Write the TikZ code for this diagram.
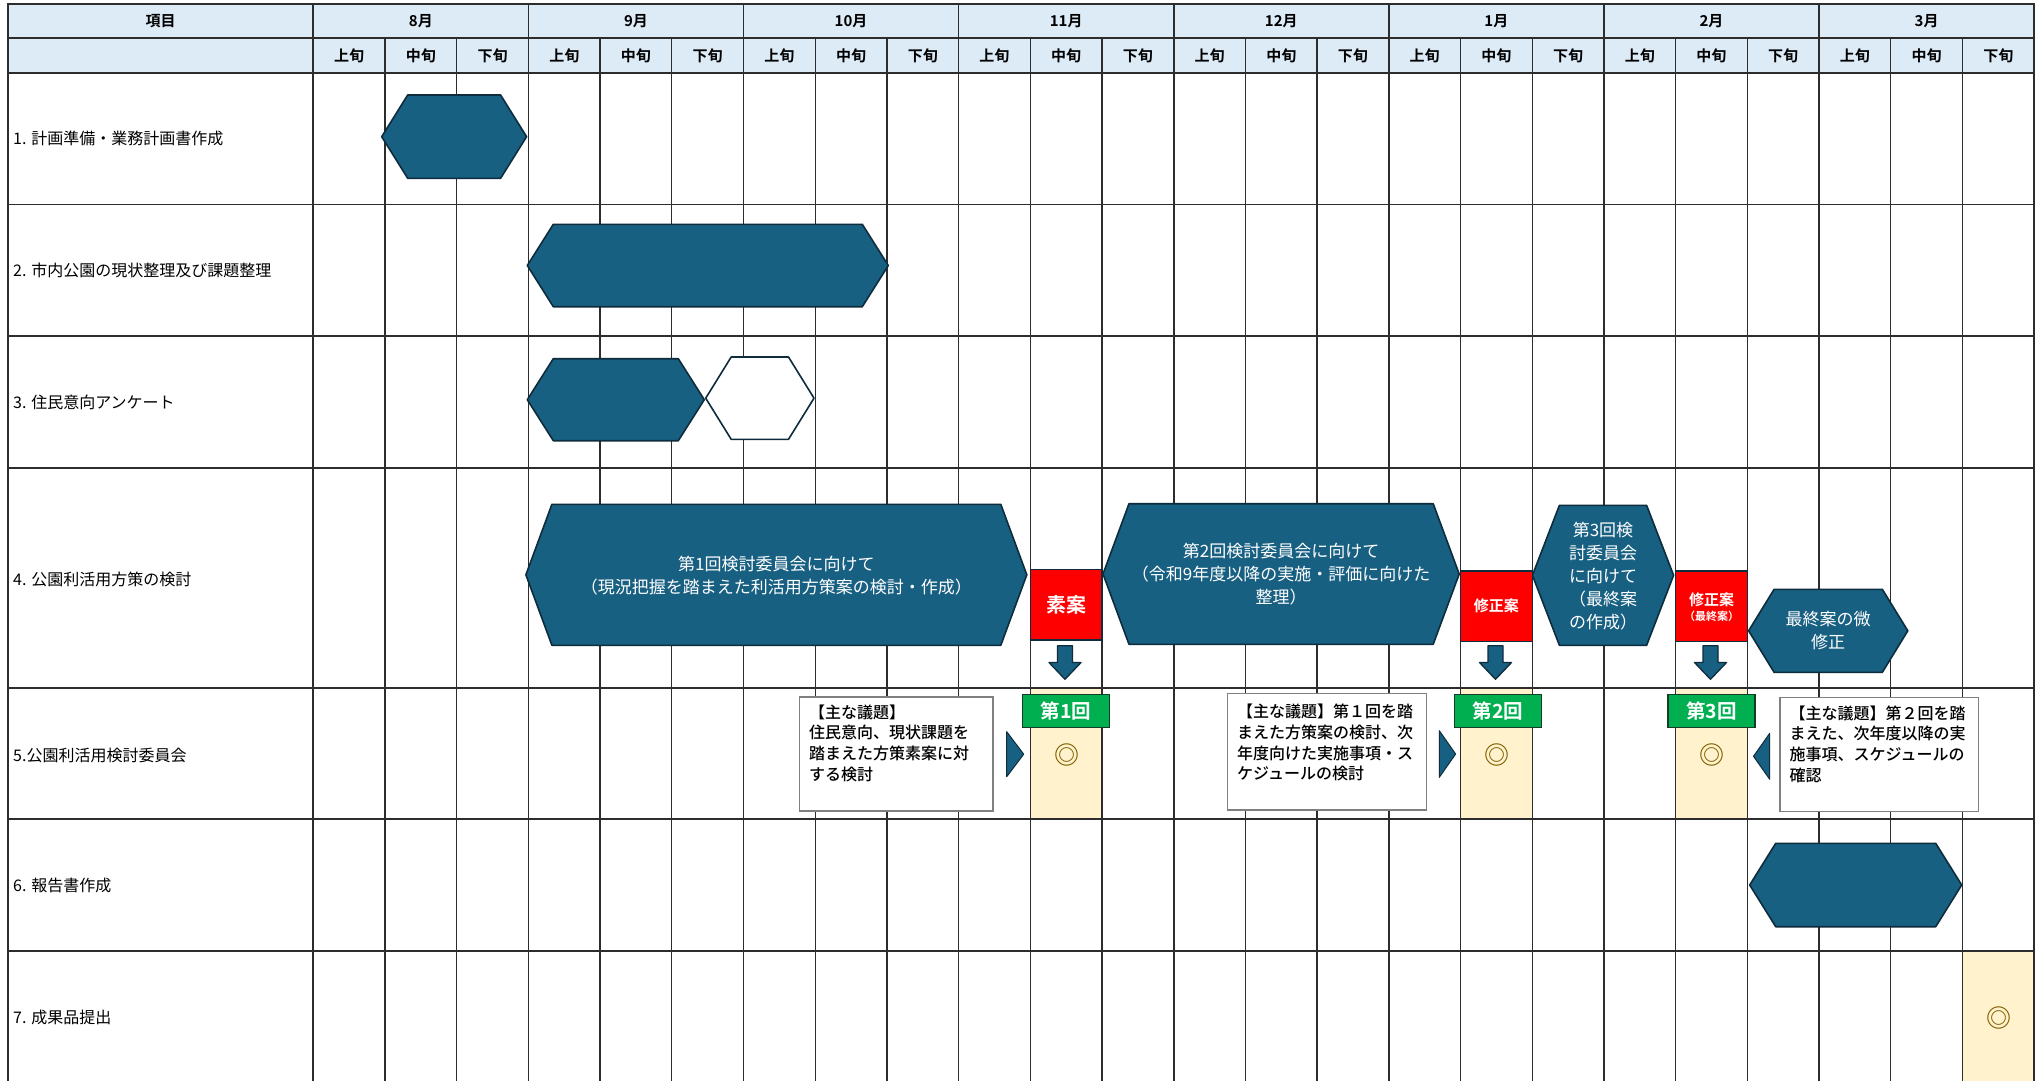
\documentclass[tikz,border=0pt]{standalone}
\usepackage{fontspec}
\setmainfont{Noto Sans CJK JP}[BoldFont={Noto Sans CJK JP Bold}]
\newfontfamily\notefont{Noto Sans CJK JP Medium}

\definecolor{headblue}{RGB}{221,235,247}
\definecolor{barblue}{RGB}{24,96,130}
\definecolor{baredge}{RGB}{14,44,60}
\definecolor{mtgyellow}{RGB}{255,242,204}
\definecolor{mtggreen}{RGB}{0,176,80}
\definecolor{mtgedge}{RGB}{22,60,40}
\definecolor{markgold}{RGB}{128,96,0}
\definecolor{gridgray}{RGB}{45,45,45}

\tikzset{
  gridline/.style={draw=gridgray, line width=1.7pt, line cap=rect},
  subline/.style={draw=gridgray, line width=1.3pt},
  hexbar/.style={fill=barblue, draw=baredge, line width=1.6pt, line join=round},
  hexopen/.style={fill=white, draw=baredge, line width=1.6pt, line join=round},
  bartext/.style={text=white, align=center, inner sep=0pt, font=\fontsize{17}{23}\selectfont},
  headtext/.style={inner sep=0pt, font=\bfseries\fontsize{15}{18}\selectfont},
  rowlabel/.style={anchor=west, inner sep=0pt, font=\fontsize{16}{20}\selectfont},
  draftbox/.style={fill=red, draw=baredge, line width=1.5pt, minimum width=71.7, minimum height=70.5},
  drafttext/.style={text=white, inner sep=0pt, font=\bfseries\fontsize{15}{15}\selectfont},
  roundbox/.style={fill=mtggreen, draw=mtgedge, line width=1.8pt, text=white, minimum width=87, minimum height=33, font=\bfseries\fontsize{19.5}{19.5}\selectfont},
  notebox/.style={fill=white, draw=gray, line width=1.4pt},
  notetext/.style={align=left, anchor=north west, inner sep=0pt, font=\notefont\fontsize{16}{20.8}\selectfont},
  pointer/.style={fill=barblue, draw=baredge, line width=1pt, line join=round},
  donemark/.style={text=markgold, inner sep=0pt, font=\bfseries\fontsize{25}{25}\selectfont}
}

\begin{document}
\begin{tikzpicture}[x=1pt,y=-1pt]
  \useasboundingbox (0,0) rectangle (2042,1081);
  \fill[white] (0,0) rectangle (2042,1081);

  \fill[headblue] (7.7,4) rectangle (2034.1,72.7);
  \fill[mtgyellow] (1030.3,688) rectangle (1102,819.3);
  \fill[mtgyellow] (1460.5,688) rectangle (1532.2,819.3);
  \fill[mtgyellow] (1675.6,688) rectangle (1747.3,819.3);
  \fill[mtgyellow] (1962.4,951) rectangle (2034.1,1081);

  \foreach \k in {0,...,23}
    \draw[subline] ({313.3+71.7*\k},38.3) -- ({313.3+71.7*\k},1081);
  \foreach \k in {0,...,8}
    \draw[gridline] ({313.3+215.1*\k},4) -- ({313.3+215.1*\k},1081);
  \draw[gridline] (7.7,4) -- (7.7,1081);
  \foreach \y in {4,38.3,72.7,204.6,336,468.3,688,819.3,951}
    \draw[gridline] (7.7,\y) -- (2034.1,\y);

  \node[headtext] (item) at (160.7,21.2) {項目};
  \foreach \mon [count=\i from 0] in {8月,9月,10月,11月,12月,1月,2月,3月}
    \node[headtext] (month\i) at ({420.85+215.1*\i},21.2) {\mon};
  \foreach \m in {0,...,7}
    \foreach \d [count=\j from 0] in {上旬,中旬,下旬}
      \node[headtext] (dec\m\j) at ({349.15+215.1*\m+71.7*\j},55.5) {\d};

  \node[rowlabel] (task1) at (13,138.6) {1. 計画準備・業務計画書作成};
  \node[rowlabel] (task2) at (13,270.3) {2. 市内公園の現状整理及び課題整理};
  \node[rowlabel] (task3) at (13,402.2) {3. 住民意向アンケート};
  \node[rowlabel] (task4) at (13,579) {4. 公園利活用方策の検討};
  \node[rowlabel] (task5) at (13,755) {5.公園利活用検討委員会};
  \node[rowlabel] (task6) at (13,885.2) {6. 報告書作成};
  \node[rowlabel] (task7) at (13,1017) {7. 成果品提出};

  \draw[hexbar] (381.7,136.7) -- (407.7,95) -- (500.6,95) -- (526.6,136.7) -- (500.6,178.3) -- (407.7,178.3) -- cycle;
  \draw[hexbar] (527.3,265.5) -- (553.3,224.3) -- (862.3,224.3) -- (888.3,265.5) -- (862.3,306.7) -- (553.3,306.7) -- cycle;
  \draw[hexbar] (527.3,399.7) -- (553.3,358.7) -- (678.3,358.7) -- (704.3,399.7) -- (678.3,440.7) -- (553.3,440.7) -- cycle;
  \draw[hexopen] (705.7,398.2) -- (731.2,357) -- (788.5,357) -- (814,398.2) -- (788.5,439.3) -- (731.2,439.3) -- cycle;
  \draw[hexbar] (525.9,574.8) -- (551.9,504.3) -- (1000.8,504.3) -- (1026.8,574.8) -- (1000.8,645.3) -- (551.9,645.3) -- cycle;
  \draw[hexbar] (1103,574) -- (1129,503.7) -- (1433.2,503.7) -- (1459.2,574) -- (1433.2,644.3) -- (1129,644.3) -- cycle;
  \draw[hexbar] (1532.4,575.3) -- (1559.4,505.3) -- (1646.6,505.3) -- (1673.6,575.3) -- (1646.6,645.3) -- (1559.4,645.3) -- cycle;
  \draw[hexbar] (1748.6,630.8) -- (1774.1,589.3) -- (1882.3,589.3) -- (1907.8,630.8) -- (1882.3,672.3) -- (1774.1,672.3) -- cycle;
  \draw[hexbar] (1749.7,885) -- (1775.7,843.3) -- (1935.7,843.3) -- (1961.7,885) -- (1935.7,926.7) -- (1775.7,926.7) -- cycle;

  \node[bartext] (plan1) at (776.4,575.5) {第1回検討委員会に向けて\\（現況把握を踏まえた利活用方策案の検討・作成）};
  \node[bartext] (plan2) at (1281.1,574.5) {第2回検討委員会に向けて\\（令和9年度以降の実施・評価に向けた\\整理）};
  \node[bartext] (plan3) at (1603,575.8) {第3回検\\討委員会\\に向けて\\（最終案\\の作成）};
  \node[bartext] (plan4) at (1828.2,631) {最終案の微\\修正};

  \node[draftbox] (draft1) at (1066.2,604.7) {};
  \node[drafttext, font=\bfseries\fontsize{20}{20}\selectfont] (draft1txt) at (draft1) {素案};
  \node[draftbox] (draft2) at (1496.4,606.2) {};
  \node[drafttext] (draft2txt) at (draft2) {修正案};
  \node[draftbox] (draft3) at (1711.5,606) {};
  \node[drafttext] (draft3txt) at (1711.5,599.3) {修正案};
  \node[drafttext, font=\bfseries\fontsize{11}{11}\selectfont] (draft3sub) at (1711.5,616.7) {（最終案）};

  \foreach \ax in {1065,1495.5,1710.5}
    \draw[pointer, line width=1.3pt] ({\ax-7.5},645.7) -- ({\ax+7.5},645.7) -- ({\ax+7.5},662.5) -- ({\ax+16},662.5) -- (\ax,679.3) -- ({\ax-16},662.5) -- ({\ax-7.5},662.5) -- cycle;

  \node[roundbox] (round1) at (1066,711) {第1回};
  \node[roundbox] (round2) at (1497.9,711) {第2回};
  \node[roundbox] (round3) at (1711.4,711) {第3回};

  \node[donemark] (done1) at (1067,754.5) {◎};
  \node[donemark] (done2) at (1497,754.5) {◎};
  \node[donemark] (done3) at (1712,754.5) {◎};
  \node[donemark] (done4) at (1999,1017.5) {◎};

  \draw[notebox] (799.6,697) rectangle (992.9,811);
  \node[notetext] (note1) at (809,704.3) {【主な議題】\\住民意向、現状課題を\\踏まえた方策素案に対\\する検討};
  \draw[notebox] (1227.3,693.3) rectangle (1426.7,810);
  \node[notetext] (note2) at (1237,703.7) {【主な議題】第１回を踏\\まえた方策案の検討、次\\年度向けた実施事項・ス\\ケジュールの検討};
  \draw[notebox] (1779.9,697.3) rectangle (1978.7,811.7);
  \node[notetext] (note3) at (1789.5,705.3) {【主な議題】第２回を踏\\まえた、次年度以降の実\\施事項、スケジュールの\\確認};

  \draw[pointer] (1006.7,731.7) -- (1023.7,754.2) -- (1006.7,776.7) -- cycle;
  \draw[pointer] (1439.3,730.7) -- (1455.6,754) -- (1439.3,777.3) -- cycle;
  \draw[pointer] (1769.7,733.3) -- (1753.5,756.3) -- (1769.7,779.3) -- cycle;
\end{tikzpicture}
\end{document}
